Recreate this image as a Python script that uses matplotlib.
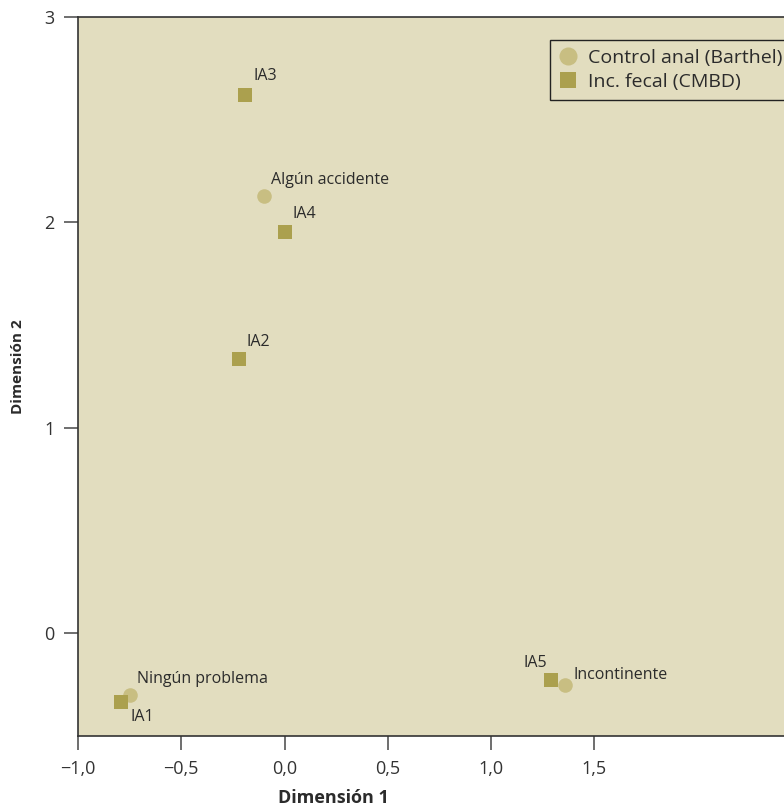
import matplotlib
matplotlib.use("Agg")
import matplotlib.pyplot as plt
from matplotlib.lines import Line2D

plt.rcParams["font.family"] = ["Open Sans", "DejaVu Sans"]

# Control anal (Barthel) categories - circles
barthel_labels = ["Ningún problema", "Algún accidente", "Incontinente"]
barthel_x = [-0.75, -0.10, 1.36]
barthel_y = [-0.30, 2.13, -0.25]

# Inc. fecal (CMBD) categories - squares
cmbd_labels = ["IA1", "IA2", "IA3", "IA4", "IA5"]
cmbd_x = [-0.79, -0.22, -0.19, 0.00, 1.29]
cmbd_y = [-0.335, 1.335, 2.62, 1.955, -0.225]

xticks = [-1.0, -0.5, 0.0, 0.5, 1.0, 1.5]
xtick_labels = ["\u22121,0", "\u22120,5", "0,0", "0,5", "1,0", "1,5"]
yticks = [0, 1, 2, 3]
ytick_labels = ["0", "1", "2", "3"]

circle_color = "#C8BE82"
square_color = "#ABA04E"
bg_color = "#E2DDBF"
text_color = "#2b2b2b"

fig = plt.figure(figsize=(7.84, 8.08), dpi=100)
# axes runs past the right edge of the picture, as in the source
ax = fig.add_axes([78 / 784, 72 / 808, 3.5 * 206.5 / 784, 719 / 808])
ax.set_facecolor(bg_color)
ax.set_xlim(-1.0, 2.5)
ax.set_ylim(-0.5, 3.0)

ax.scatter(barthel_x, barthel_y, s=110, marker="o", color=circle_color,
           linewidths=0, zorder=3)
ax.scatter(cmbd_x, cmbd_y, s=110, marker="s", color=square_color,
           linewidths=0, zorder=3)

# label offsets in pixels (dx, dy, ha, va)
barthel_offsets = {
    "Ningún problema": (7, 8, "left", "bottom"),
    "Algún accidente": (7, 8, "left", "bottom"),
    "Incontinente": (8, 2, "left", "bottom"),
}
cmbd_offsets = {
    "IA1": (9, -7, "left", "top"),
    "IA2": (7, 9, "left", "bottom"),
    "IA3": (8, 11, "left", "bottom"),
    "IA4": (8, 10, "left", "bottom"),
    "IA5": (-4, 9, "right", "bottom"),
}

for lab, x, y in zip(barthel_labels, barthel_x, barthel_y):
    dx, dy, ha, va = barthel_offsets[lab]
    ax.annotate(lab, (x, y), xytext=(dx, dy), textcoords="offset pixels",
                ha=ha, va=va, fontsize=11.5, color=text_color, zorder=4)
for lab, x, y in zip(cmbd_labels, cmbd_x, cmbd_y):
    dx, dy, ha, va = cmbd_offsets[lab]
    ax.annotate(lab, (x, y), xytext=(dx, dy), textcoords="offset pixels",
                ha=ha, va=va, fontsize=11.5, color=text_color, zorder=4)

ax.set_xticks(xticks)
ax.set_xticklabels(xtick_labels)
ax.set_yticks(yticks)
ax.set_yticklabels(ytick_labels)
ax.tick_params(direction="out", length=10, width=1.2, color="#555555",
               labelsize=13, labelcolor="#333333", pad=7)

for side in ["left", "bottom", "top"]:
    ax.spines[side].set_color("#333333")
    ax.spines[side].set_linewidth(1.2)
ax.spines["right"].set_visible(False)

fig.text(18 / 784, 1 - 367 / 808, "Dimensión 2", fontsize=11,
         fontweight="bold", color=text_color, ha="center", va="center",
         rotation=90)
fig.text(333 / 784, 1 - 798 / 808, "Dimensión 1", fontsize=13,
         fontweight="bold", color=text_color, ha="center", va="center")

handles = [
    Line2D([], [], marker="o", linestyle="", markersize=13,
           markerfacecolor=circle_color, markeredgewidth=0),
    Line2D([], [], marker="s", linestyle="", markersize=12,
           markerfacecolor=square_color, markeredgewidth=0),
]
leg = fig.legend(handles, ["Control anal (Barthel)", "Inc. fecal (CMBD)"],
                 loc="upper left", bbox_to_anchor=(550 / 784, 1 - 40 / 808),
                 frameon=True, fancybox=False, fontsize=14, handlelength=0.9,
                 handletextpad=0.6, labelspacing=0.33, borderpad=0.45,
                 borderaxespad=0, facecolor=bg_color, framealpha=1)
leg.get_frame().set_edgecolor("#222222")
leg.get_frame().set_linewidth(1.0)
for t in leg.get_texts():
    t.set_color(text_color)

fig.savefig("out.png", dpi=100)
